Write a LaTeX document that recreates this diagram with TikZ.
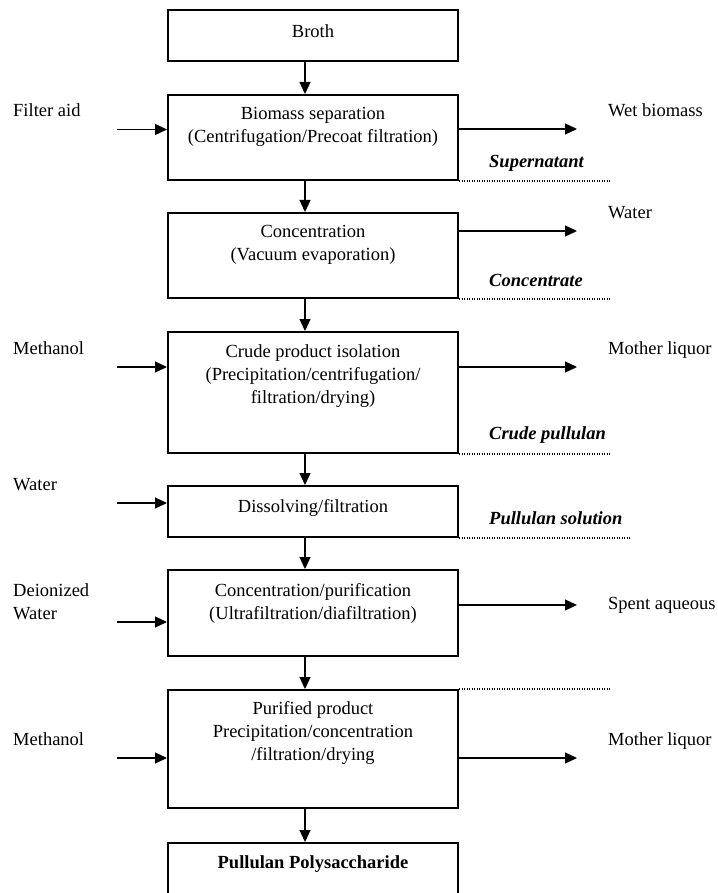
\documentclass[tikz,border=0pt]{standalone}
\usepackage{fontspec}
\setmainfont{Liberation Serif}
\usetikzlibrary{arrows.meta}

\tikzset{
	box/.style={draw, line width=2pt, minimum width=290pt, inner sep=0pt},
	flow/.style={line width=1.3pt, -{Triangle[length=12pt,width=11pt]}},
	dotrule/.style={line width=1.8pt, dash pattern=on 1.4pt off 1.1pt},
	txt/.style={font=\fontsize{18.5}{23}\selectfont, align=center, inner sep=0pt},
	side/.style={txt, anchor=mid west, align=left},
	tag/.style={side, font=\fontsize{18.5}{23}\selectfont\bfseries\itshape},
}

\begin{document}
\begin{tikzpicture}[x=1pt,y=-1pt]
	\clip (0,0) rectangle (717,893);
	% process boxes
	\node[box, minimum height=51pt] (broth) at (313,35.5) {};
	\node[box, minimum height=85pt] (biomass) at (313,137.5) {};
	\node[box, minimum height=85pt] (conc) at (313,255.5) {};
	\node[box, minimum height=121pt] (crude) at (313,392.5) {};
	\node[box, minimum height=51pt] (dissolve) at (313,511.5) {};
	\node[box, minimum height=86pt] (purif) at (313,613) {};
	\node[box, minimum height=118pt] (purified) at (313,749) {};
	\node[box, minimum height=54pt] (product) at (313,870) {};
	% box texts
	\node[txt] (broth-t) at (313,31) {Broth};
	\node[txt] (biomass-t) at (313,127) {Biomass separation\\(Centrifugation/Precoat filtration)};
	\node[txt] (conc-t) at (313,245) {Concentration\\(Vacuum evaporation)};
	\node[txt] (crude-t) at (313,376) {Crude product isolation\\(Precipitation/centrifugation/\\filtration/drying)};
	\node[txt] (dissolve-t) at (313,508) {Dissolving/filtration};
	\node[txt] (purif-t) at (313,603) {Concentration/purification\\(Ultrafiltration/diafiltration)};
	\node[txt] (purified-t) at (313,733) {Purified product\\Precipitation/concentration\\/filtration/drying};
	\node[txt, font=\fontsize{18.5}{23}\selectfont\bfseries] (product-t) at (313,864) {Pullulan Polysaccharide};
	% main line
	\draw[flow] ([xshift=-8pt]broth.south) -- ([xshift=-8pt]biomass.north);
	\draw[flow] ([xshift=-8pt]biomass.south) -- ([xshift=-8pt]conc.north);
	\draw[flow] ([xshift=-8pt]conc.south) -- ([xshift=-8pt]crude.north);
	\draw[flow] ([xshift=-8pt]crude.south) -- ([xshift=-8pt]dissolve.north);
	\draw[flow] ([xshift=-8pt]dissolve.south) -- ([xshift=-8pt]purif.north);
	\draw[flow] ([xshift=-8pt]purif.south) -- ([xshift=-8pt]purified.north);
	\draw[flow] ([xshift=-8pt]purified.south) -- ([xshift=-8pt]product.north);
	% inputs
	\node[side] (filteraid) at (13,114) {Filter aid};
	\node[side] (methanol1) at (13,352) {Methanol};
	\node[side] (water1) at (13,488) {Water};
	\node[side, anchor=west] (diwater) at (13,602) {Deionized\\Water};
	\node[side] (methanol2) at (13,743) {Methanol};
	\coordinate (in1) at (117,129.5);
	\coordinate (in2) at (117,367);
	\coordinate (in3) at (117,503);
	\coordinate (in4) at (117,622);
	\coordinate (in5) at (117,758);
	\draw[flow] (in1) -- (in1 -| biomass.west);
	\draw[flow] (in2) -- (in2 -| crude.west);
	\draw[flow] (in3) -- (in3 -| dissolve.west);
	\draw[flow] (in4) -- (in4 -| purif.west);
	\draw[flow] (in5) -- (in5 -| purified.west);
	% outputs
	\node[side] (wetbiomass) at (608,114) {Wet biomass};
	\node[side] (water2) at (608,216) {Water};
	\node[side] (liquor1) at (608,352) {Mother liquor};
	\node[side] (spent) at (608,607) {Spent aqueous};
	\node[side] (liquor2) at (608,743) {Mother liquor};
	\coordinate (out1) at (577,129);
	\coordinate (out2) at (577,231);
	\coordinate (out3) at (577,367);
	\coordinate (out4) at (577,605);
	\coordinate (out5) at (577,758);
	\draw[flow] (out1 -| biomass.east) -- (out1);
	\draw[flow] (out2 -| conc.east) -- (out2);
	\draw[flow] (out3 -| crude.east) -- (out3);
	\draw[flow] (out4 -| purif.east) -- (out4);
	\draw[flow] (out5 -| purified.east) -- (out5);
	% intermediate streams
	\node[tag] (supernatant) at (489,165) {Supernatant};
	\node[tag] (concentrate) at (489,284) {Concentrate};
	\node[tag] (crudepul) at (489,437) {Crude pullulan};
	\node[tag] (pulsol) at (489,522) {Pullulan solution};
	\coordinate (d1) at (610,0);
	\coordinate (d2) at (630,0);
	\draw[dotrule] (biomass.south east) -- (biomass.south east -| d1);
	\draw[dotrule] (conc.south east) -- (conc.south east -| d1);
	\draw[dotrule] (crude.south east) -- (crude.south east -| d1);
	\draw[dotrule] (dissolve.south east) -- (dissolve.south east -| d2);
	\draw[dotrule] (purified.north east) -- (purified.north east -| d1);
\end{tikzpicture}
\end{document}
